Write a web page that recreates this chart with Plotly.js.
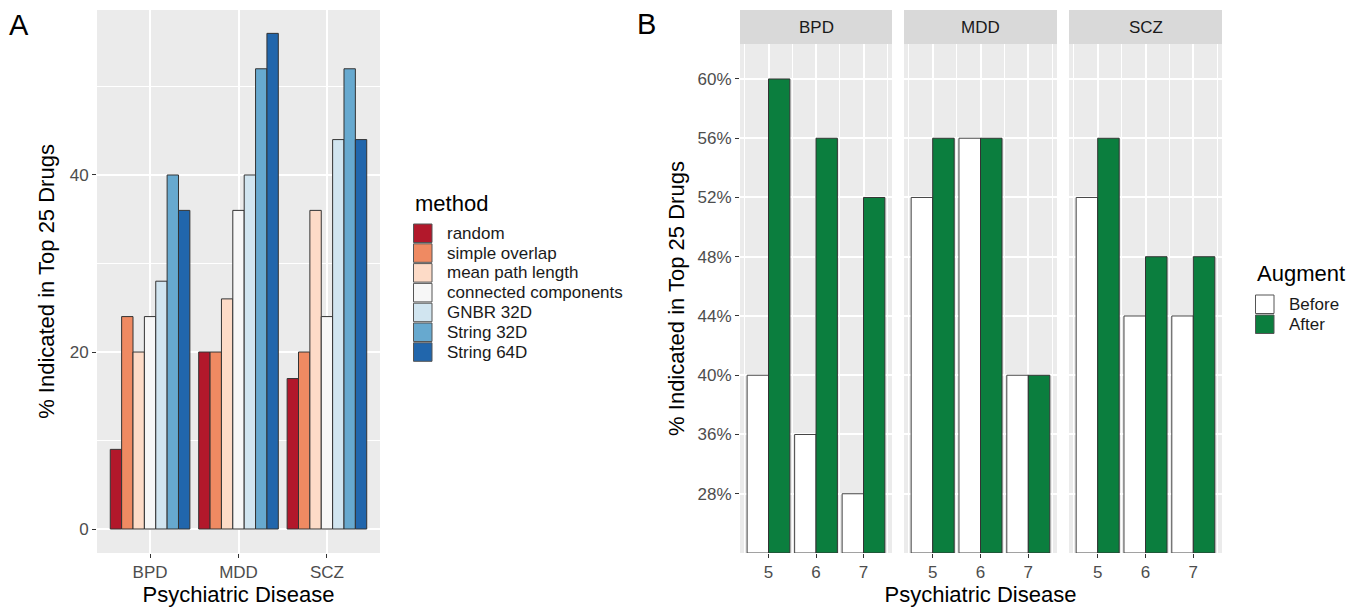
<!DOCTYPE html>
<html><head><meta charset="utf-8">
<script src="https://cdn.plot.ly/plotly-3.0.1.min.js"></script>
<style>html,body{margin:0;padding:0;background:#fff}#chart{width:1361px;height:610px}</style>
</head><body><div id="chart"></div>
<script>
// ---- Panel A data ----
const diseases = ['BPD', 'MDD', 'SCZ'];
const methods = ['random', 'simple overlap', 'mean path length', 'connected components', 'GNBR 32D', 'String 32D', 'String 64D'];
const methodColors = ['#B2182B', '#EF8A62', '#FDDBC7', '#F7F7F7', '#D1E5F0', '#67A9CF', '#2166AC'];
const random = [9, 20, 17];
const simpleOverlap = [24, 20, 20];
const meanPathLength = [20, 26, 36];
const connectedComponents = [24, 36, 24];
const gnbr32 = [28, 40, 44];
const string32 = [40, 52, 52];
const string64 = [36, 56, 44];
const methodValues = [random, simpleOverlap, meanPathLength, connectedComponents, gnbr32, string32, string64];

// ---- Panel B data ----
const facets = ['BPD', 'MDD', 'SCZ'];
const kValues = [5, 6, 7];
const pctLabels = ['28%', '36%', '40%', '44%', '48%', '52%', '56%', '60%'];
const beforeBPD = [40, 36, 28];
const afterBPD = [60, 56, 52];
const beforeMDD = [52, 56, 40];
const afterMDD = [56, 56, 40];
const beforeSCZ = [52, 44, 44];
const afterSCZ = [56, 48, 48];
const beforeVals = [beforeBPD, beforeMDD, beforeSCZ];
const afterVals = [afterBPD, afterMDD, afterSCZ];
const augmentNames = ['Before', 'After'];
const augmentColors = ['#FFFFFF', '#0B7E3E'];

const W = 1361, H = 610;
const fx = p => p / W;
const fy = p => 1 - p / H;
const FONT = 'Liberation Sans, Arial, sans-serif';
const tickFont = {family: FONT, size: 17, color: '#4D4D4D'};
const titleFont = {family: FONT, size: 22, color: '#000'};
const legFont = {family: FONT, size: 17, color: '#1A1A1A'};
const legTitleFont = {family: FONT, size: 22, color: '#000'};

// discrete y position (ggplot factor scale) for a percentage value
const ypos = v => pctLabels.indexOf(v + '%') + 1;

const traces = [];
methods.forEach((m, i) => {
  traces.push({
    type: 'bar', name: m, x: diseases, y: methodValues[i],
    xaxis: 'x', yaxis: 'y', showlegend: false,
    marker: {color: methodColors[i], line: {color: '#333', width: 1}},
    hoverinfo: 'x+y+name'
  });
});
const xNames = ['x2', 'x3', 'x4'];
facets.forEach((f, j) => {
  [beforeVals[j], afterVals[j]].forEach((vals, k) => {
    traces.push({
      type: 'bar', name: augmentNames[k], x: kValues, y: vals.map(ypos),
      xaxis: xNames[j], yaxis: 'y2', showlegend: false,
      marker: {color: augmentColors[k], line: {color: k === 0 ? '#444' : '#333', width: 1}},
      customdata: vals, hovertemplate: f + ' k=%{x}: %{customdata}%<extra>' + augmentNames[k] + '</extra>'
    });
  });
});

const baseAxis = {
  showline: false, zeroline: false, ticks: 'outside', ticklen: 4, tickwidth: 1, tickcolor: '#333',
  tickfont: tickFont, gridcolor: '#FFFFFF', gridwidth: 1.6, automargin: false, fixedrange: true
};
function bx(domain, extra) {
  return Object.assign({}, baseAxis, {
    domain: domain, anchor: 'y2', range: [4.4, 7.6], tickvals: kValues, ticktext: kValues.map(String),
    minor: {tickvals: [4.5, 5.5, 6.5, 7.5], showgrid: true, gridcolor: '#FFFFFF', gridwidth: 0.8, ticks: ''}
  }, extra || {});
}

const layout = {
  width: W, height: H, margin: {l: 0, r: 0, t: 0, b: 0},
  paper_bgcolor: '#FFFFFF', plot_bgcolor: '#EBEBEB',
  font: {family: FONT, color: '#1A1A1A'},
  showlegend: false,
  barmode: 'group', bargap: 0.1, bargroupgap: 0,
  xaxis: Object.assign({}, baseAxis, {
    domain: [fx(97), fx(380)], anchor: 'y', type: 'category', range: [-0.6, 2.6],
    title: {text: 'Psychiatric Disease', font: titleFont, standoff: 2}
  }),
  yaxis: Object.assign({}, baseAxis, {
    domain: [fy(553), fy(10)], anchor: 'x', range: [-2.71, 58.64], tickvals: [0, 20, 40],
    minor: {dtick: 10, showgrid: true, gridcolor: '#FFFFFF', gridwidth: 0.8, ticks: ''},
    title: {text: '% Indicated in Top 25 Drugs', font: titleFont, standoff: 8}
  }),
  xaxis2: bx([fx(740), fx(892)]),
  xaxis3: bx([fx(904), fx(1057)], {title: {text: 'Psychiatric Disease', font: titleFont, standoff: 2}}),
  xaxis4: bx([fx(1069), fx(1222)]),
  yaxis2: Object.assign({}, baseAxis, {
    domain: [fy(553), fy(44)], anchor: 'x2', range: [0, 8.59],
    tickvals: pctLabels.map((_, i) => i + 1), ticktext: pctLabels,
    title: {text: '% Indicated in Top 25 Drugs', font: titleFont, standoff: 6}
  }),
  shapes: [],
  annotations: [
    {text: 'A', x: fx(7), y: fy(25), xref: 'paper', yref: 'paper', xanchor: 'left', yanchor: 'middle', showarrow: false, font: {family: FONT, size: 29, color: '#000'}},
    {text: 'B', x: fx(635), y: fy(24), xref: 'paper', yref: 'paper', xanchor: 'left', yanchor: 'middle', showarrow: false, font: {family: FONT, size: 29, color: '#000'}}
  ]
};

// facet strips
const stripX = [[740, 892], [904, 1057], [1069, 1222]];
facets.forEach((f, j) => {
  layout.shapes.push({type: 'rect', xref: 'paper', yref: 'paper', x0: fx(stripX[j][0]), x1: fx(stripX[j][1]), y0: fy(44), y1: fy(10), fillcolor: '#D9D9D9', line: {width: 0}, layer: 'below'});
  layout.annotations.push({text: f, xref: 'paper', yref: 'paper', x: fx((stripX[j][0] + stripX[j][1]) / 2), y: fy(27), xanchor: 'center', yanchor: 'middle', showarrow: false, font: {family: FONT, size: 17, color: '#1A1A1A'}});
});

// legend A (ggplot-style keys)
function addLegend(title, names, colors, left, titleY, firstKeyTop, pitch, keySize) {
  layout.annotations.push({text: title, xref: 'paper', yref: 'paper', x: fx(left), y: fy(titleY), xanchor: 'left', yanchor: 'middle', showarrow: false, font: legTitleFont});
  names.forEach((n, i) => {
    const top = firstKeyTop + i * pitch;
    layout.shapes.push({type: 'rect', xref: 'paper', yref: 'paper', x0: fx(left + 0.5), x1: fx(left + 0.5 + keySize), y0: fy(top + keySize), y1: fy(top), fillcolor: colors[i], line: {color: '#555', width: 1}});
    layout.annotations.push({text: n, xref: 'paper', yref: 'paper', x: fx(left + 32), y: fy(top + keySize / 2), xanchor: 'left', yanchor: 'middle', showarrow: false, font: legFont});
  });
}
addLegend('method', methods, methodColors, 413, 203, 224, 19.8, 18.5);
addLegend('Augment', augmentNames, augmentColors, 1255, 273, 295, 20, 18.5);

Plotly.newPlot('chart', traces, layout, {displayModeBar: false});
</script></body></html>
